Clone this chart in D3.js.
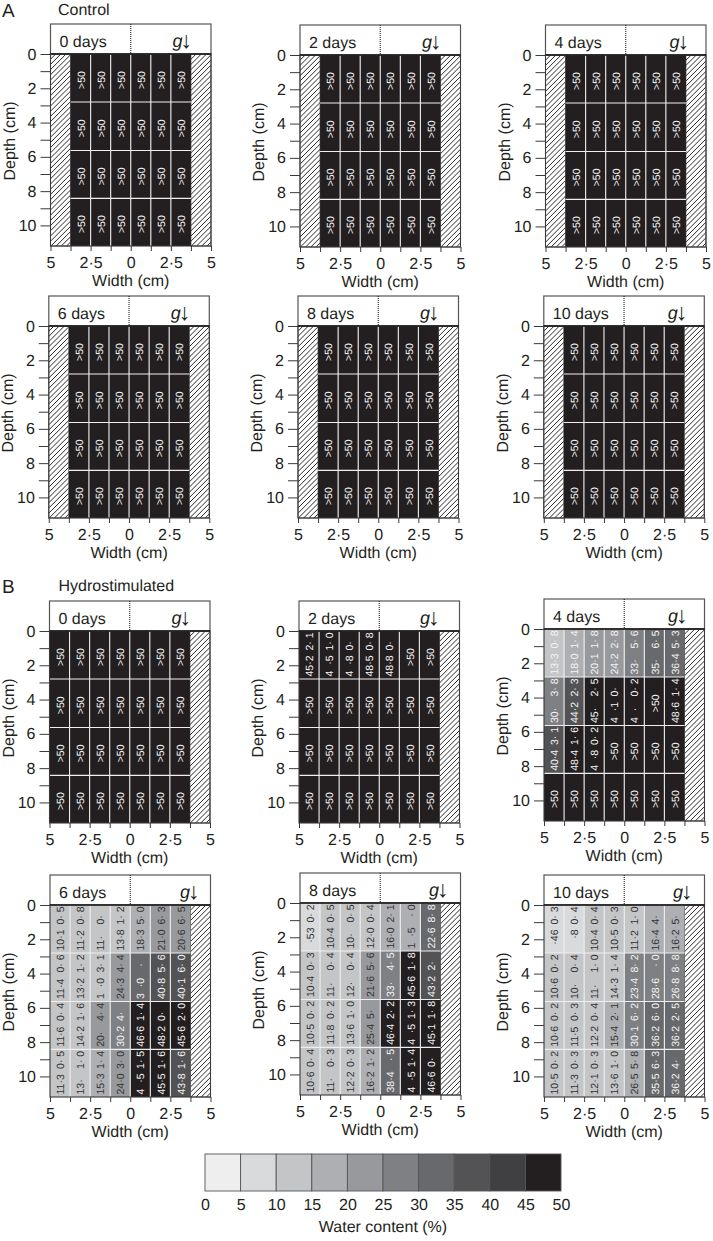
<!DOCTYPE html>
<html>
<head>
	<meta charset="utf-8">
	<title>Water content</title>
	<style>
		body { margin:0; background:#fff; }
		text { font-family:"Liberation Sans", Arial, sans-serif; fill:#231f20; text-rendering:geometricPrecision; }
	</style>
</head>
<script src="https://d3js.org/d3.v7.min.js"></script>
<body>

<div id="viz"></div>

<script>

// Panel titles
var dayLabels = ["0 days","2 days","4 days","6 days","8 days","10 days"];

// Depth bands of the cells (cm) and the axis ticks
var depthEdges = [0, 2.8, 5.63, 8.42, 11.2];
var depthTicks = [0,1,2,3,4,5,6,7,8,9,10];
var widthTicks = [-5,-3.75,-2.5,-1.25,0,1.25,2.5,3.75,5];
var legendTicks = [0,5,10,15,20,25,30,35,40,45,50];

// Legend shades, lowest class first
var shades = ["#eeeeef","#d9dadc","#c4c5c7","#aeafb2","#98999c","#7f8083","#68696c","#535355","#404042","#231f20"];

// Hydrostimulated cell labels as printed: mean and s.e., one row per depth band.
// "_" stands for a digit the printed figure has lost
var means2 = [["45·2","4_·5","4_·8","48·5","48·8",">50",">50"]];
var errs2  = [["2· 1","1· 0","0· _","0· 8","0· _","",""]];

var means4 = [
	["13·3","18·0","20·1","24·2","33·","35·","36·4"],
	["30·","44·2","45·","4_·1","4_·",">50","48·6"],
	["40·4","48·4","4_·8",">50",">50",">50",">50"],
	[">50",">50",">50",">50",">50",">50",">50"]];
var errs4 = [
	["0· 8","1· 4","1· 8","2· 8","5· 6","6· 5","5· 3"],
	["3· 8","2· 3","2· 5","0· _","0· 2","","1· 4"],
	["3· 1","1· 6","0· 2","","","",""],
	["","","","","","",""]];
var shades4 = [
	[2,3,4,4,5,6,6],
	[5,7,9,9,9,9,9],
	[7,9,9,9,9,9,9],
	[9,9,9,9,9,9,9]];

var means6 = [
	["10·1","11·2","11·","13·8","18·3","21·0","20·6"],
	["11·4","13·2","1_·0","24·3","3_·0","40·8","40·1"],
	["11·6","14·2","20·","30·2","46·6","48·2","45·6"],
	["11·3","13·","15·3","24·0","4_·5","45·5","43·8"]];
var errs6 = [
	["0· 5","0· 8","0· _","1· 2","5· 0","6· 3","6· 5"],
	["0· 6","1· 2","3· 1","4· 4","_· _","5· 6","6· 0"],
	["0· 4","1· 6","4· 4","4· _","1· 4","0· _","2· 0"],
	["0· 5","1· 0","1· 4","3· 0","1· 5","1· 6","1· 6"]];
var shades6 = [
	[2,2,2,2,3,4,4],
	[2,2,2,4,6,7,7],
	[2,2,4,5,9,9,9],
	[2,2,3,4,9,9,7]];

var means8 = [
	["_·53","10·4","10·","12·0","16·0","1_·5","22·6"],
	["10·4","11·","12·","21·6","33·","45·6","43·2"],
	["10·5","11·8","13·6","25·4","46·4","4_·5","45·1"],
	["10·6","11·","12·2","16·2","38·4","4_·5","46·6"]];
var errs8 = [
	["0· 2","0· 5","0· 5","0· 4","2· 1","_· 0","8· 8"],
	["0· 3","0· 4","0· 4","5· 6","4· 5","1· 8","2· _"],
	["0· 2","0· 2","1· 0","5· _","2· 2","1· 3","1· 8"],
	["0· 4","0· 3","0· 3","1· 2","_· 5","1· 4","0· _"]];
var shades8 = [
	[1,2,2,2,3,3,6],
	[2,2,2,4,5,9,7],
	[2,2,2,4,9,9,9],
	[2,2,2,3,6,9,9]];

var means10 = [
	["_·46","__·8","10·4","10·5","11·2","16·4","16·2"],
	["10·6","10·","11·","14·3","23·4","28·6","26·8"],
	["10·6","11·5","12·2","15·4","30·1","36·2","36·2"],
	["10·5","11·3","12·1","13·6","26·5","35·5","36·2"]];
var errs10 = [
	["0· 3","0· 4","0· 4","0· 3","1· 0","4· _","5· _"],
	["0· 2","0· 4","1· 0","1· 4","8· 2","_· 0","8· 8"],
	["0· 2","0· 3","0· 4","2· 1","6· 2","6· 0","2· 5"],
	["0· 2","0· 3","0· 3","1· 0","5· 8","6· 3","4· _"]];
var shades10 = [
	[1,1,2,2,2,3,3],
	[2,2,2,2,5,5,5],
	[2,2,2,3,5,6,6],
	[2,2,2,2,3,6,6]];

// Fill in the rows that only read >50
function over50(rows, n) {
	var out = rows ? rows.slice() : [];
	while (out.length < 4) out.push(d3.range(n).map(function() { return ">50"; }));
	return out;
}
function blank(rows, n) {
	var out = rows ? rows.slice() : [];
	while (out.length < 4) out.push(d3.range(n).map(function() { return ""; }));
	return out;
}
function allDark(n) {
	return d3.range(4).map(function() { return d3.range(n).map(function() { return 9; }); });
}
// Lost digit -> gap of about one digit width
function printed(s) {
	return s.replace(/_/g, "\u00a0\u00a0");
}

var svg = d3.select("#viz").append("svg")
	.attr("width", 713)
	.attr("height", 1241)
	.style("display", "block");

var colour = d3.scaleOrdinal().domain(d3.range(10)).range(shades);

var panelW = 160.5, panelH = 192, headH = 30, hatchStep = 5.2;

function drawPanel(p, i) {
	var x = d3.scaleLinear().domain([-5, 5]).range([0, panelW]);
	var y = d3.scaleLinear().domain([0, 11.2]).range([0, panelH]);
	var g = svg.append("g").attr("transform", "translate(" + p.left + "," + (p.top + headH) + ")");
	var nCols = p.means[0].length;
	var firstEdge = nCols === 7 ? -5 : -3.75;
	var colEdges = d3.range(nCols + 1).map(function(i) { return firstEdge + i * 1.25; });

	// Header box
	g.append("rect")
		.attr("x", 0).attr("y", -headH)
		.attr("width", panelW).attr("height", headH)
		.attr("fill", "#fff")
		.attr("stroke", "#555")
		.attr("stroke-width", 1.2);
	g.append("line")
		.attr("x1", x(0)).attr("x2", x(0))
		.attr("y1", -headH).attr("y2", 0)
		.attr("stroke", "#231f20")
		.attr("stroke-width", 1.1)
		.attr("stroke-dasharray", "1,1");
	g.append("text")
		.attr("x", 9).attr("y", -7.5)
		.attr("font-size", 16)
		.text(p.title);
	var grav = g.append("text")
		.attr("x", p.gravX).attr("y", -7.5)
		.attr("font-size", 18);
	grav.append("tspan").attr("font-style", "italic").text("g");
	grav.append("tspan").attr("dx", -2).attr("dy", 1).attr("font-size", 23).attr("font-weight", "bold").text("↓");

	// Hatched sides, real lines clipped to each side strip
	var hatchBits = nCols === 7 ? [[3.75, 5]] : [[-5, -3.75], [3.75, 5]];
	hatchBits.forEach(function(b, k) {
		var id = "clip" + i + "_" + k;
		var left = x(b[0]), w = x(b[1]) - x(b[0]);
		g.append("clipPath").attr("id", id).append("rect")
			.attr("x", left).attr("y", 0).attr("width", w).attr("height", panelH);
		g.append("g").attr("clip-path", "url(#" + id + ")")
			.selectAll("line").data(d3.range(left - panelH, left + w, hatchStep)).enter().append("line")
				.attr("x1", function(d) { return d; })
				.attr("y1", panelH)
				.attr("x2", function(d) { return d + panelH; })
				.attr("y2", 0)
				.attr("stroke", "#2a2a2a")
				.attr("stroke-width", 1);
		g.append("rect")
			.attr("x", left).attr("y", 0).attr("width", w).attr("height", panelH)
			.attr("fill", "none")
			.attr("stroke", "#444")
			.attr("stroke-width", 0.8);
	});

	// Cells
	var cells = [];
	p.means.forEach(function(row, r) {
		row.forEach(function(mean, c) {
			cells.push({r:r, c:c, mean:mean, err:p.errs[r][c], shade:p.shades[r][c]});
		});
	});
	g.selectAll(".cell").data(cells).enter().append("rect")
		.attr("class", "cell")
		.attr("x", function(d) { return x(colEdges[d.c]); })
		.attr("y", function(d) { return y(depthEdges[d.r]); })
		.attr("width", function(d) { return x(colEdges[d.c + 1]) - x(colEdges[d.c]); })
		.attr("height", function(d) { return y(depthEdges[d.r + 1]) - y(depthEdges[d.r]); })
		.attr("fill", function(d) { return colour(d.shade); });

	// White grid between the cells
	g.selectAll(".vgrid").data(colEdges.slice(1, -1)).enter().append("line")
		.attr("x1", function(d) { return x(d); })
		.attr("x2", function(d) { return x(d); })
		.attr("y1", 0).attr("y2", panelH)
		.attr("stroke", "#efefef")
		.attr("stroke-width", 1.1);
	g.selectAll(".hgrid").data(depthEdges.slice(1, -1)).enter().append("line")
		.attr("x1", x(firstEdge)).attr("x2", x(colEdges[nCols]))
		.attr("y1", function(d) { return y(d); })
		.attr("y2", function(d) { return y(d); })
		.attr("stroke", "#efefef")
		.attr("stroke-width", 1.1);

	// Rotated labels in the cells
	function labelColour(d) {
		return (p.allWhite || d.shade >= 5) ? "#f4f4f4" : "#333";
	}
	function cellX(d) { return (x(colEdges[d.c]) + x(colEdges[d.c + 1])) / 2 + 4.2; }
	function place(sel, anchor, yFn) {
		sel.attr("transform", function(d) { return "translate(" + cellX(d) + "," + yFn(d) + ") rotate(-90)"; })
			.attr("text-anchor", anchor)
			.attr("font-size", 10.5)
			.style("fill", labelColour);
	}
	g.selectAll(".mean").data(cells).enter().append("text")
		.attr("class", "mean")
		.call(place, "start", function(d) { return y(depthEdges[d.r + 1]) - 2.5; })
		.filter(function(d) { return d.mean === ">50"; })
		.attr("text-anchor", "middle")
		.attr("transform", function(d) {
			return "translate(" + cellX(d) + "," + ((y(depthEdges[d.r]) + y(depthEdges[d.r + 1])) / 2 + 2) + ") rotate(-90)";
		});
	g.selectAll(".mean").text(function(d) { return printed(d.mean); });
	g.selectAll(".err").data(cells.filter(function(d) { return d.err !== ""; })).enter().append("text")
		.attr("class", "err")
		.call(place, "end", function(d) { return y(depthEdges[d.r]) + 1.5; })
		.text(function(d) { return printed(d.err); });

	// Plot frame
	g.append("rect")
		.attr("width", panelW).attr("height", panelH)
		.attr("fill", "none")
		.attr("stroke", "#3a3a3a")
		.attr("stroke-width", 1.1);
	g.append("line")
		.attr("x1", 0).attr("x2", panelW)
		.attr("y1", 0).attr("y2", 0)
		.attr("stroke", "#231f20")
		.attr("stroke-width", 1.6);

	// Axes
	var yAxis = g.append("g").call(d3.axisLeft(y)
		.tickValues(depthTicks)
		.tickSize(10)
		.tickPadding(4)
		.tickFormat(function(d) { return d % 2 ? "" : d; }));
	var xAxis = g.append("g")
		.attr("transform", "translate(0," + panelH + ")")
		.call(d3.axisBottom(x)
			.tickValues(widthTicks)
			.tickSize(5)
			.tickPadding(5.5)
			.tickFormat(function(d) {
				if (d % 2.5 !== 0) return "";
				return String(Math.abs(d)).replace(".", "·");
			}));
	[yAxis, xAxis].forEach(function(a) {
		a.attr("font-family", null).attr("font-size", 16);
		a.select(".domain").remove();
		a.selectAll("line").attr("stroke", "#3a3a3a").attr("stroke-width", 1);
	});

	g.append("text")
		.attr("transform", "translate(-36," + 87 + ") rotate(-90)")
		.attr("text-anchor", "middle")
		.attr("font-size", 16)
		.text("Depth (cm)");
	g.append("text")
		.attr("x", panelW / 2).attr("y", panelH + 40)
		.attr("text-anchor", "middle")
		.attr("font-size", 16)
		.text("Width (cm)");
}

// Where each panel goes
var panels = [
	{left:50.5, top:24, title:dayLabels[0], gravX:122, means:over50(null,6), errs:blank(null,6), shades:allDark(6), allWhite:true},
	{left:300, top:25, title:dayLabels[1], gravX:122, means:over50(null,6), errs:blank(null,6), shades:allDark(6), allWhite:true},
	{left:545.5, top:25, title:dayLabels[2], gravX:124, means:over50(null,6), errs:blank(null,6), shades:allDark(6), allWhite:true},
	{left:48.8, top:296, title:dayLabels[3], gravX:122, means:over50(null,6), errs:blank(null,6), shades:allDark(6), allWhite:true},
	{left:298, top:296, title:dayLabels[4], gravX:122, means:over50(null,6), errs:blank(null,6), shades:allDark(6), allWhite:true},
	{left:543.8, top:296, title:dayLabels[5], gravX:124, means:over50(null,6), errs:blank(null,6), shades:allDark(6), allWhite:true},
	{left:49.5, top:601, title:dayLabels[0], gravX:122, means:over50(null,7), errs:blank(null,7), shades:allDark(7), allWhite:true},
	{left:299, top:601, title:dayLabels[1], gravX:121, means:over50(means2,7), errs:blank(errs2,7), shades:allDark(7), allWhite:true},
	{left:544, top:599, title:dayLabels[2], gravX:124, means:means4, errs:errs4, shades:shades4, allWhite:true},
	{left:50, top:875, title:dayLabels[3], gravX:130, means:means6, errs:errs6, shades:shades6},
	{left:300, top:873, title:dayLabels[4], gravX:129, means:means8, errs:errs8, shades:shades8},
	{left:544, top:875, title:dayLabels[5], gravX:129, means:means10, errs:errs10, shades:shades10}
];
panels.forEach(drawPanel);

// Section titles
svg.append("text").attr("x", 2).attr("y", 17).attr("font-size", 19).text("A");
svg.append("text").attr("x", 58).attr("y", 15).attr("font-size", 16).text("Control");
svg.append("text").attr("x", 2).attr("y", 593).attr("font-size", 19).text("B");
svg.append("text").attr("x", 58.5).attr("y", 591).attr("font-size", 16).text("Hydrostimulated");

// Colour key
var keyScale = d3.scaleLinear().domain([0, 50]).range([205, 561]);
var keyTop = 1154, keyH = 37;
svg.selectAll(".key").data(d3.pairs(legendTicks)).enter().append("rect")
	.attr("class", "key")
	.attr("x", function(d) { return keyScale(d[0]); })
	.attr("y", keyTop)
	.attr("width", function(d) { return keyScale(d[1]) - keyScale(d[0]); })
	.attr("height", keyH)
	.attr("fill", function(d, i) { return shades[i]; })
	.attr("stroke", "#555")
	.attr("stroke-width", 0.9);
var keyAxis = svg.append("g")
	.attr("transform", "translate(0," + (keyTop + keyH) + ")")
	.call(d3.axisBottom(keyScale).tickValues(legendTicks).tickSize(0).tickPadding(8));
keyAxis.attr("font-family", null).attr("font-size", 16);
keyAxis.select(".domain").remove();
svg.append("text")
	.attr("x", 383).attr("y", 1232)
	.attr("text-anchor", "middle")
	.attr("font-size", 16)
	.text("Water content (%)");

</script>

</body>
</html>
